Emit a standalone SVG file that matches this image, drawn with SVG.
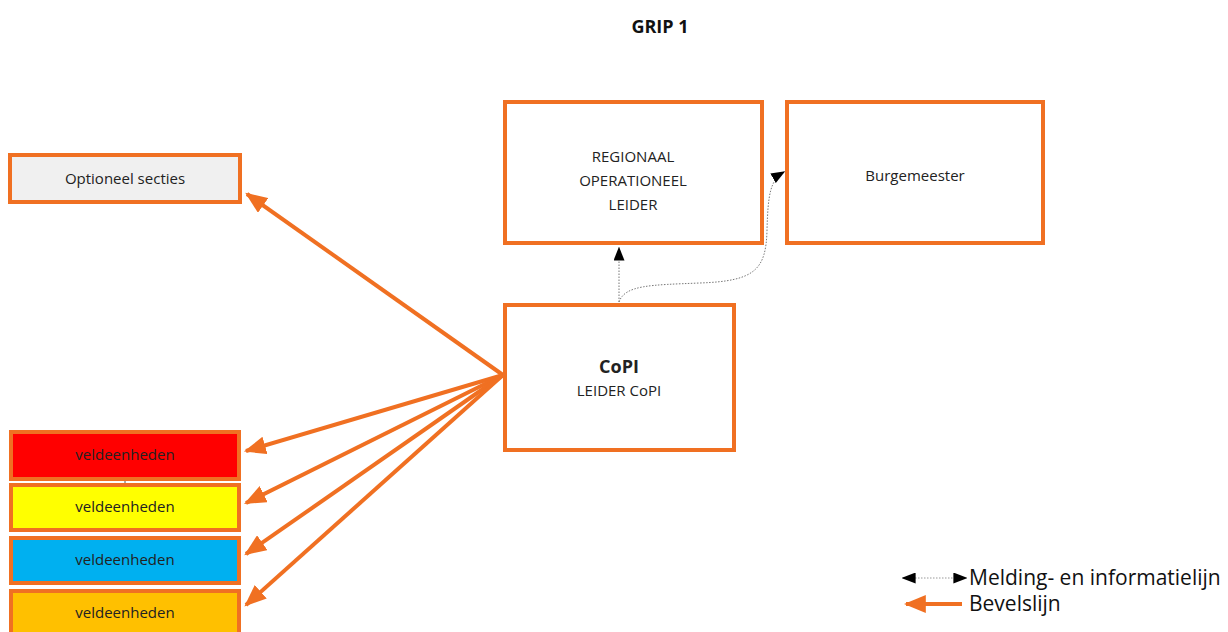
<svg xmlns="http://www.w3.org/2000/svg" width="1228" height="632" viewBox="0 0 1228 632">
<style>
.box{stroke:#F07022;stroke-width:4}
.t{font-family:"Open Sans","Liberation Sans",sans-serif;font-size:15px;fill:#222;text-anchor:middle}
.cmd{stroke:#F07022;stroke-width:4;fill:none}
.info{stroke:#777;stroke-width:1;stroke-dasharray:1.5 1.5;fill:none}
.lg{font-family:"Open Sans","Liberation Sans",sans-serif;font-size:21px;fill:#111}
</style>
<defs>
<marker id="oa" viewBox="0 0 10 10" refX="9" refY="5" markerWidth="5.5" markerHeight="4.5" orient="auto" markerUnits="strokeWidth" preserveAspectRatio="none">
<path d="M0,0 L10,5 L0,10 z" fill="#F07022"/>
</marker>
<marker id="ba" viewBox="0 0 10 10" refX="9" refY="5" markerWidth="14" markerHeight="11" orient="auto-start-reverse" markerUnits="userSpaceOnUse" preserveAspectRatio="none">
<path d="M0,0 L10,5 L0,10 z" fill="#000"/>
</marker>
</defs>
<rect width="1228" height="632" fill="#fff"/>
<text x="660" y="33" style="font-family:'Open Sans','Liberation Sans',sans-serif;font-size:18px;font-weight:bold;fill:#111" text-anchor="middle">GRIP 1</text>

<g id="connectors">
<line class="cmd" x1="503" y1="375" x2="247" y2="194" marker-end="url(#oa)"/>
<line class="cmd" x1="503" y1="375" x2="246" y2="451" marker-end="url(#oa)"/>
<line class="cmd" x1="503" y1="375" x2="246" y2="503" marker-end="url(#oa)"/>
<line class="cmd" x1="503" y1="375" x2="246" y2="554" marker-end="url(#oa)"/>
<line class="cmd" x1="503" y1="375" x2="246" y2="605" marker-end="url(#oa)"/>
<line class="info" x1="619" y1="302" x2="619" y2="248" marker-end="url(#ba)"/>
<path class="info" d="M619,302 C625,285 650,285 700,283 C755,281 766,270 767,230 C768,195 770,180 784,172" marker-end="url(#ba)"/>
<line x1="125" y1="479" x2="125" y2="485" stroke="#555" stroke-width="1"/>
</g>

<g id="optioneel">
<rect class="box" x="10" y="155" width="230" height="47" fill="#f0f0f0"/>
<text class="t" x="125" y="184">Optioneel secties</text>
</g>
<g id="rol">
<rect class="box" x="505" y="102" width="257" height="141" fill="#fff"/>
<text class="t" x="633" y="162">REGIONAAL</text>
<text class="t" x="633" y="186">OPERATIONEEL</text>
<text class="t" x="633" y="210">LEIDER</text>
</g>
<g id="burgemeester">
<rect class="box" x="787" y="102" width="256" height="141" fill="#fff"/>
<text class="t" x="915" y="181">Burgemeester</text>
</g>
<g id="copi">
<rect class="box" x="505" y="305" width="229" height="145" fill="#fff"/>
<text class="t" x="619" y="373" style="font-size:18px;font-weight:bold">CoPI</text>
<text class="t" x="619" y="396">LEIDER CoPI</text>
</g>
<g id="veld1">
<rect class="box" x="11" y="432" width="228" height="47" fill="#ff0000"/>
<text class="t" x="125" y="460">veldeenheden</text>
</g>
<g id="veld2">
<rect class="box" x="11" y="485" width="228" height="45" fill="#ffff00"/>
<text class="t" x="125" y="512">veldeenheden</text>
</g>
<g id="veld3">
<rect class="box" x="11" y="538" width="228" height="45" fill="#00b0f0"/>
<text class="t" x="125" y="565">veldeenheden</text>
</g>
<g id="veld4">
<rect class="box" x="11" y="591" width="228" height="50" fill="#ffc000"/>
<text class="t" x="125" y="618">veldeenheden</text>
</g>

<g id="legend">
<line x1="903" y1="578" x2="966" y2="578" stroke="#999" stroke-width="1" stroke-dasharray="1.5 1.5" marker-start="url(#ba)" marker-end="url(#ba)"/>
<text class="lg" x="969" y="585">Melding- en informatielijn</text>
<line class="cmd" x1="962" y1="604" x2="906" y2="604" marker-end="url(#oa)"/>
<text class="lg" x="969" y="611">Bevelslijn</text>
</g>
</svg>
